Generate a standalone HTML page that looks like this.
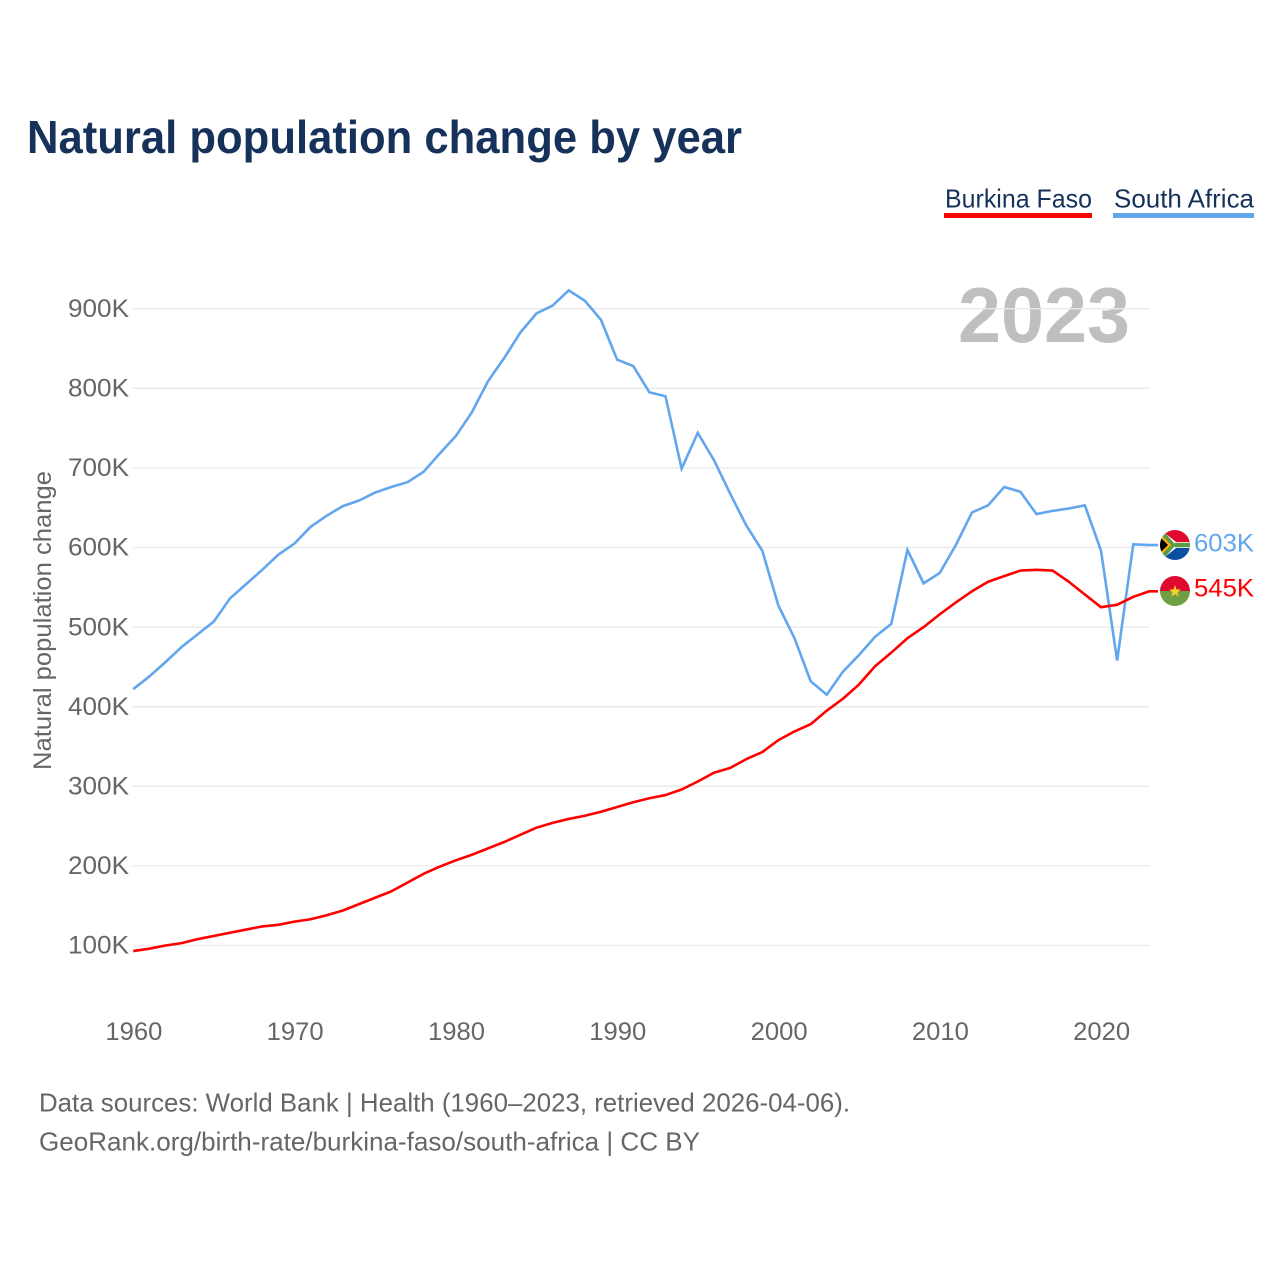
<!DOCTYPE html>
<html lang="en">
<head>
<meta charset="utf-8">
<title>Natural population change by year</title>
<style>
html,body{margin:0;padding:0;background:#fff;}
svg{display:block;font-family:"Liberation Sans",sans-serif;}
</style>
</head>
<body>
<svg id="chart" xmlns="http://www.w3.org/2000/svg" width="1280" height="1280" viewBox="0 0 1280 1280">
  <defs>
    <clipPath id="flag-clip-za"><circle cx="1175" cy="545" r="15"/></clipPath>
    <clipPath id="flag-clip-bf"><circle cx="1175" cy="591" r="15"/></clipPath>
  </defs>
  <rect x="0" y="0" width="1280" height="1280" fill="#ffffff"/>
  <text x="27" y="153" font-size="46" font-weight="700" fill="#17325a" textLength="715" lengthAdjust="spacingAndGlyphs">Natural population change by year</text>

  <g>
    <text x="945" y="207.5" font-size="26" fill="#17325a" textLength="147" lengthAdjust="spacingAndGlyphs">Burkina Faso</text>
    <rect x="944" y="213" width="148" height="5" fill="#ff0000"/>
  </g>
  <g>
    <text x="1114" y="207.5" font-size="26" fill="#17325a" textLength="140" lengthAdjust="spacingAndGlyphs">South Africa</text>
    <rect x="1113" y="213" width="141" height="5" fill="#62a6ee"/>
  </g>

  <text x="958" y="342" font-size="78" font-weight="700" fill="#bfbfbf" textLength="172" lengthAdjust="spacingAndGlyphs">2023</text>

  <g id="grid"></g>
  <g id="y-ticks"></g>
  <g id="x-ticks"></g>
  <text transform="translate(51,770) rotate(-90)" x="0" y="0" font-size="25" fill="#666666" textLength="299" lengthAdjust="spacingAndGlyphs">Natural population change</text>

  <g id="series"></g>

  <g clip-path="url(#flag-clip-za)">
    <rect x="1160" y="530" width="30" height="15" fill="#de0a30"/>
    <rect x="1160" y="545" width="30" height="15" fill="#0b4ea2"/>
    <path d="M1160 529 L1176 542 H1190 V548 H1176 L1160 561 Z" fill="#ffffff"/>
    <path d="M1162 530 L1175 545 L1162 560 Z M1175 543.2 H1190 V546.8 H1175 Z" fill="#5f9a45" stroke="#5f9a45" stroke-width="1"/>
    <path d="M1160 534 L1171 545 L1160 556 Z" fill="#ffb612"/>
    <path d="M1160 537 L1168 545 L1160 553 Z" fill="#000000"/>
  </g>
  <g clip-path="url(#flag-clip-bf)">
    <rect x="1160" y="576" width="30" height="15" fill="#de0a30"/>
    <rect x="1160" y="591" width="30" height="15" fill="#6f9f42"/>
    <polygon points="1175,585 1176.6,589.5 1181,589.5 1177.5,592.2 1178.8,596.6 1175,594 1171.2,596.6 1172.5,592.2 1169,589.5 1173.4,589.5" fill="#f5d32a"/>
  </g>

  <g id="end-labels"></g>

  <text x="39" y="1111.5" font-size="26" fill="#666666" textLength="811" lengthAdjust="spacingAndGlyphs">Data sources: World Bank | Health (1960–2023, retrieved 2026-04-06).</text>
  <text x="39" y="1150.5" font-size="26" fill="#666666" textLength="661" lengthAdjust="spacingAndGlyphs">GeoRank.org/birth-rate/burkina-faso/south-africa | CC BY</text>
</svg>
<script>
const years = [1960,1961,1962,1963,1964,1965,1966,1967,1968,1969,1970,1971,1972,1973,1974,1975,1976,1977,1978,1979,1980,1981,1982,1983,1984,1985,1986,1987,1988,1989,1990,1991,1992,1993,1994,1995,1996,1997,1998,1999,2000,2001,2002,2003,2004,2005,2006,2007,2008,2009,2010,2011,2012,2013,2014,2015,2016,2017,2018,2019,2020,2021,2022,2023];
const southAfrica = [422,438,456,475,491,507,536,554,572,591,605,626,640,652,659,669,676,682,695,718,740,770,809,838,870,894,904,923,910,886,836,828,795,790,699,744,710,668,628,596,527,486,432,415,444,465,488,504,597,555,568,603,644,653,676,670,642,646,649,653,596,458,604,603];
const burkinaFaso = [93,96,100,103,108,112,116,120,124,126,130,133,138,144,152,160,168,179,190,199,207,214,222,230,239,248,254,259,263,268,274,280,285,289,296,306,317,323,334,343,358,369,378,395,410,428,451,468,486,500,516,531,545,557,564,571,572,571,557,541,525,528,538,545];
const yTickValues = [100,200,300,400,500,600,700,800,900];
const xTickValues = [1960,1970,1980,1990,2000,2010,2020];

const NS = 'http://www.w3.org/2000/svg';
function xScale(year) { return 133.2 + (year - 1960) * 16.13; }
function yScale(value) { return 945.5 - (value - 100) * 0.796; }
function svgEl(tag, parentId) {
  const el = document.createElementNS(NS, tag);
  document.getElementById(parentId).appendChild(el);
  return el;
}

yTickValues.forEach(function (value) {
  const line = svgEl('line', 'grid');
  
  
  line.setAttribute('x1', 133);
  line.setAttribute('x2', 1149.5);
  line.setAttribute('y1', yScale(value));
  line.setAttribute('y2', yScale(value));
  line.setAttribute('stroke', '#e9e9e9');
  line.setAttribute('stroke-width', '1.3');

  const label = svgEl('text', 'y-ticks');
  
  
  label.setAttribute('x', 129);
  label.setAttribute('y', yScale(value) + 8.2);
  label.setAttribute('text-anchor', 'end');
  label.setAttribute('font-size', '25');
  label.setAttribute('fill', '#666666');
  label.setAttribute('textLength', '61');
  label.setAttribute('lengthAdjust', 'spacingAndGlyphs');
  label.textContent = value + 'K';
});

xTickValues.forEach(function (year) {
  const label = svgEl('text', 'x-ticks');
  
  
  label.setAttribute('x', xScale(year) + 0.7);
  label.setAttribute('y', 1040);
  label.setAttribute('text-anchor', 'middle');
  label.setAttribute('font-size', '25');
  label.setAttribute('fill', '#666666');
  label.setAttribute('textLength', '57');
  label.setAttribute('lengthAdjust', 'spacingAndGlyphs');
  label.textContent = year;
});

function linePoints(values) {
  const pts = values.map(function (v, i) { return xScale(years[i]).toFixed(2) + ',' + yScale(v).toFixed(2); });
  pts.push('1158,' + yScale(values[values.length - 1]).toFixed(2));
  return pts.join(' ');
}

const blueLine = svgEl('polyline', 'series');


blueLine.setAttribute('points', linePoints(southAfrica));
blueLine.setAttribute('fill', 'none');
blueLine.setAttribute('stroke', '#62a6ee');
blueLine.setAttribute('stroke-width', '2.6');
blueLine.setAttribute('stroke-linejoin', 'miter');

const redLine = svgEl('polyline', 'series');


redLine.setAttribute('points', linePoints(burkinaFaso));
redLine.setAttribute('fill', 'none');
redLine.setAttribute('stroke', '#ff0000');
redLine.setAttribute('stroke-width', '2.6');
redLine.setAttribute('stroke-linejoin', 'round');

const blueEnd = svgEl('text', 'end-labels');


blueEnd.setAttribute('x', 1194);
blueEnd.setAttribute('y', 551.5);
blueEnd.setAttribute('font-size', '25');
blueEnd.setAttribute('fill', '#62a6ee');
blueEnd.setAttribute('textLength', '60');
blueEnd.setAttribute('lengthAdjust', 'spacingAndGlyphs');
blueEnd.textContent = southAfrica[southAfrica.length - 1] + 'K';

const redEnd = svgEl('text', 'end-labels');


redEnd.setAttribute('x', 1194);
redEnd.setAttribute('y', 596.5);
redEnd.setAttribute('font-size', '25');
redEnd.setAttribute('fill', '#ff0000');
redEnd.setAttribute('textLength', '60');
redEnd.setAttribute('lengthAdjust', 'spacingAndGlyphs');
redEnd.textContent = burkinaFaso[burkinaFaso.length - 1] + 'K';
</script>
</body>
</html>
